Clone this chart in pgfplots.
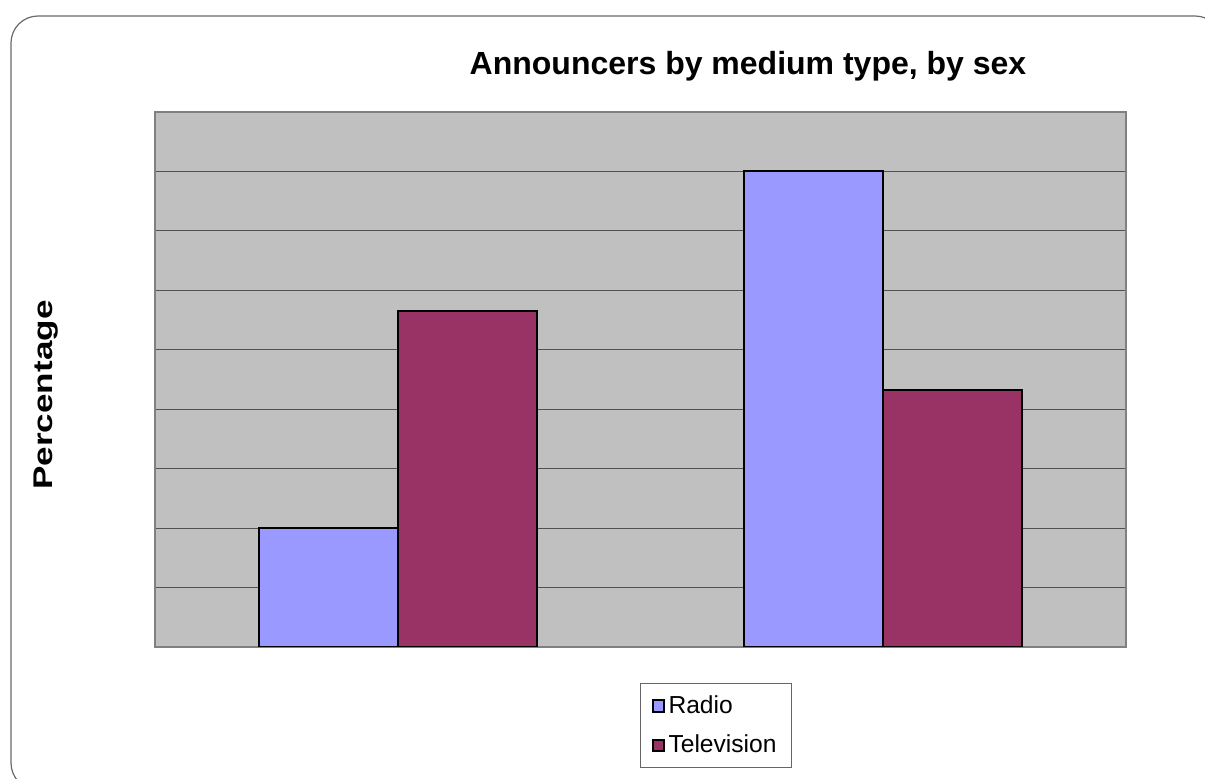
\documentclass[border=0pt]{standalone}
\usepackage{pgfplots}
\pgfplotsset{compat=1.18}
\usepackage{fontspec}
\setmainfont{Liberation Sans}
\definecolor{plotbg}{HTML}{C0C0C0}
\definecolor{radiocol}{HTML}{9999FF}
\definecolor{tvcol}{HTML}{993366}
\definecolor{framecol}{HTML}{6A6A6A}
\begin{document}
\begin{tikzpicture}
\useasboundingbox (0,0) rectangle (602.5pt,-389.5pt);
\begin{scope}
\clip (0,0) rectangle (602.5pt,-389.5pt);
\draw[framecol, line width=0.6pt, rounded corners=13.5pt] (5.5pt,-8pt) rectangle (611pt,-395pt);
\end{scope}
\node[anchor=base, font=\fontsize{16}{19}\selectfont\bfseries] at (374pt,-37.5pt) {Announcers by medium type, by sex};
\node[rotate=90, font=\fontsize{13.5}{16}\selectfont\bfseries] at (23pt,-197.5pt) {\scalebox{1.3}[1]{Percentage}};
\begin{axis}[
  at={(77.5pt,-323.5pt)}, anchor=south west,
  width=485.5pt, height=267.5pt, scale only axis,
  xmin=-0.5, xmax=1.5, ymin=0, ymax=90,
  xtick=\empty, ytick={10,20,...,80},
  yticklabels={}, major tick length=0pt,
  ymajorgrids, grid style={draw=black!68, line width=0.5pt},
  axis line style={draw=black!50, line width=1pt},
  axis background/.style={fill=plotbg},
  ybar=0pt, bar width=69.5pt,
  legend style={at={(0.4995,-0.0673)}, anchor=north west,
    draw=black!60, line width=0.5pt, font=\fontsize{12.3}{14}\selectfont,
    inner xsep=5.5pt, inner ysep=4pt, row sep=5.3pt, cells={anchor=west}},
  legend image code/.code={\draw[#1, draw=black, line width=1pt] (0.3pt,-2.8pt) rectangle (5.8pt,2.8pt);},
]
\addplot[fill=radiocol, draw=black, line width=1pt] coordinates {(0,20) (1,80)};
\addplot[fill=tvcol, draw=black, line width=1pt] coordinates {(0,56.6) (1,43.3)};
\legend{Radio,Television}
\end{axis}
\end{tikzpicture}
\end{document}
